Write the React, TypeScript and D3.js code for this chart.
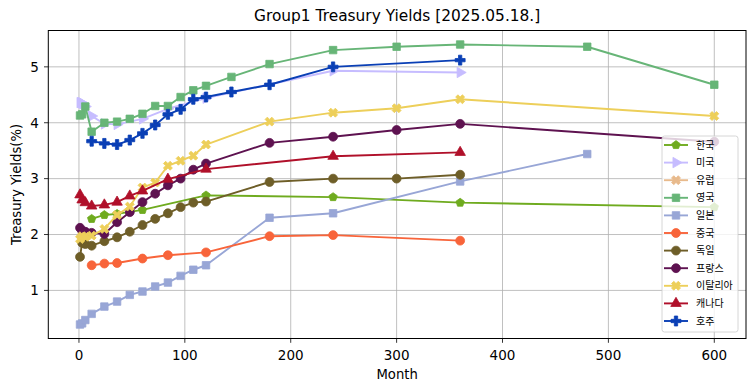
import * as d3 from "d3";

// Treasury yields by maturity (months)
const koreaMonths = [12, 24, 36, 60, 120, 240, 360, 600];
const koreaYields = [2.28, 2.35, 2.37, 2.44, 2.70, 2.67, 2.57, 2.49];

const usMonths = [1, 2, 3, 4, 6, 12, 24, 36, 60, 84, 120, 240, 360];
const usYields = [4.36, 4.36, 4.35, 4.34, 4.29, 4.12, 3.98, 3.97, 4.07, 4.25, 4.44, 4.93, 4.90];

const europeMonths: number[] = [];
const europeYields: number[] = [];

const ukMonths = [1, 3, 6, 12, 24, 36, 48, 60, 72, 84, 96, 108, 120, 144, 180, 240, 300, 360, 480, 600];
const ukYields = [4.13, 4.15, 4.29, 3.84, 4.0, 4.02, 4.07, 4.16, 4.30, 4.30, 4.46, 4.58, 4.66, 4.82, 5.05, 5.30, 5.36, 5.40, 5.36, 4.68];

const japanMonths = [1, 3, 6, 12, 24, 36, 48, 60, 72, 84, 96, 108, 120, 180, 240, 360, 480];
const japanYields = [0.39, 0.41, 0.47, 0.58, 0.71, 0.80, 0.92, 0.98, 1.07, 1.14, 1.26, 1.37, 1.45, 2.30, 2.38, 2.95, 3.44];

const chinaMonths = [12, 24, 36, 60, 84, 120, 180, 240, 360];
const chinaYields = [1.45, 1.48, 1.49, 1.57, 1.63, 1.68, 1.97, 1.99, 1.89];

const germanyMonths = [1, 3, 6, 12, 24, 36, 48, 60, 72, 84, 96, 108, 120, 180, 240, 300, 360];
const germanyYields = [1.60, 1.85, 1.83, 1.80, 1.88, 1.95, 2.05, 2.17, 2.28, 2.38, 2.49, 2.57, 2.59, 2.94, 3.00, 3.00, 3.07];

const franceMonths = [1, 3, 6, 12, 24, 36, 48, 60, 72, 84, 96, 108, 120, 180, 240, 300, 360, 600];
const franceYields = [2.12, 2.07, 2.05, 2.03, 2.01, 2.22, 2.40, 2.58, 2.73, 2.88, 3.00, 3.16, 3.27, 3.64, 3.75, 3.87, 3.98, 3.66];

const italyMonths = [1, 3, 6, 12, 24, 36, 48, 60, 72, 84, 96, 108, 120, 180, 240, 300, 360, 600];
const italyYields = [1.92, 1.97, 1.96, 1.98, 2.10, 2.35, 2.50, 2.84, 2.93, 3.23, 3.32, 3.41, 3.61, 4.02, 4.18, 4.26, 4.42, 4.12];

const canadaMonths = [1, 3, 6, 12, 24, 36, 48, 60, 84, 120, 240, 360];
const canadaYields = [2.71, 2.62, 2.57, 2.51, 2.53, 2.58, 2.69, 2.78, 2.99, 3.17, 3.40, 3.47];

const australiaMonths = [12, 24, 36, 48, 60, 72, 84, 96, 108, 120, 144, 180, 240, 360];
const australiaYields = [3.67, 3.63, 3.61, 3.69, 3.81, 3.96, 4.15, 4.24, 4.42, 4.46, 4.55, 4.68, 5.00, 5.12];

const xTicks = [0, 100, 200, 300, 400, 500, 600];
const yTicks = [1, 2, 3, 4, 5];

type Marker = "circle" | "square" | "triUp" | "triRight" | "x" | "plus" | "pentagon";

const series: { name: string; months: number[]; yields: number[]; color: string; marker: Marker }[] = [
  { name: "한국", months: koreaMonths, yields: koreaYields, color: "#6fab1f", marker: "pentagon" },
  { name: "미국", months: usMonths, yields: usYields, color: "#c6bcff", marker: "triRight" },
  { name: "유럽", months: europeMonths, yields: europeYields, color: "#e8ba8c", marker: "x" },
  { name: "영국", months: ukMonths, yields: ukYields, color: "#67b577", marker: "square" },
  { name: "일본", months: japanMonths, yields: japanYields, color: "#98a6d6", marker: "square" },
  { name: "중국", months: chinaMonths, yields: chinaYields, color: "#f8643a", marker: "circle" },
  { name: "독일", months: germanyMonths, yields: germanyYields, color: "#6e5e28", marker: "circle" },
  { name: "프랑스", months: franceMonths, yields: franceYields, color: "#5e1250", marker: "circle" },
  { name: "이탈리아", months: italyMonths, yields: italyYields, color: "#edcf5a", marker: "x" },
  { name: "캐나다", months: canadaMonths, yields: canadaYields, color: "#b0102a", marker: "triUp" },
  { name: "호주", months: australiaMonths, yields: australiaYields, color: "#0a3fb5", marker: "plus" },
];

const W = 755;
const H = 391;
const left = 48.3, right = 746, top = 30.5, bottom = 338.5;

function pentagon(r: number) {
  const pts = d3.range(5).map((i) => {
    const a = -Math.PI / 2 + (i * 2 * Math.PI) / 5;
    return [r * Math.cos(a), r * Math.sin(a)];
  });
  return "M" + pts.map((p) => p.join(",")).join("L") + "Z";
}

function markerPath(m: Marker): { d: string; rot: number } {
  switch (m) {
    case "circle": return { d: d3.symbol(d3.symbolCircle, 62)()!, rot: 0 };
    case "square": return { d: d3.symbol(d3.symbolSquare, 56)()!, rot: 0 };
    case "triUp": return { d: d3.symbol(d3.symbolTriangle, 48)()!, rot: 0 };
    case "triRight": return { d: d3.symbol(d3.symbolTriangle, 48)()!, rot: 90 };
    case "x": return { d: d3.symbol(d3.symbolCross, 50)()!, rot: 45 };
    case "plus": return { d: d3.symbol(d3.symbolCross, 55)()!, rot: 0 };
    case "pentagon": return { d: pentagon(4.4), rot: 0 };
  }
}

export default function App() {
  const allMonths = series.flatMap((s) => s.months);
  const allYields = series.flatMap((s) => s.yields);
  const [x0, x1] = d3.extent(allMonths) as [number, number];
  const [y0, y1] = d3.extent(allYields) as [number, number];
  const px = (x1 - x0) * 0.05;
  const py = (y1 - y0) * 0.05;

  const x = d3.scaleLinear().domain([x0 - px, x1 + px]).range([left, right]);
  const y = d3.scaleLinear().domain([y0 - py, y1 + py]).range([bottom, top]);

  const line = d3.line<[number, number]>().x((d) => x(d[0])).y((d) => y(d[1]));
  const font = "'DejaVu Sans', 'Noto Sans CJK KR', sans-serif";

  return (
    <div style={{ position: "absolute", left: 0, top: 0 }}>
      <svg width={W} height={H} style={{ display: "block", background: "#fff" }} fontFamily={font}>
        {/* grid */}
        {xTicks.map((t) => (
          <line key={"gx" + t} x1={x(t)} x2={x(t)} y1={top} y2={bottom} stroke="#b0b0b0" strokeWidth={0.8} />
        ))}
        {yTicks.map((t) => (
          <line key={"gy" + t} x1={left} x2={right} y1={y(t)} y2={y(t)} stroke="#b0b0b0" strokeWidth={0.8} />
        ))}

        {/* series */}
        <defs>
          <clipPath id="plot">
            <rect x={left} y={top} width={right - left} height={bottom - top} />
          </clipPath>
        </defs>
        <g clipPath="url(#plot)">
          {series.map((s) => {
            const pts = s.months.map((m, i) => [m, s.yields[i]] as [number, number]);
            const mk = markerPath(s.marker);
            return (
              <g key={s.name}>
                <path d={line(pts) ?? ""} fill="none" stroke={s.color} strokeWidth={1.9} strokeLinejoin="round" />
                {pts.map((p, i) => (
                  <path
                    key={i}
                    d={mk.d}
                    transform={`translate(${x(p[0])},${y(p[1])}) rotate(${mk.rot})`}
                    fill={s.color}
                    stroke={s.color}
                    strokeWidth={0.8}
                  />
                ))}
              </g>
            );
          })}
        </g>

        {/* axes frame */}
        <rect x={left} y={top} width={right - left} height={bottom - top} fill="none" stroke="#000" strokeWidth={1} />

        {/* x ticks */}
        {xTicks.map((t) => (
          <g key={"xt" + t}>
            <line x1={x(t)} x2={x(t)} y1={bottom} y2={bottom + 4.3} stroke="#000" strokeWidth={0.8} />
            <text x={x(t)} y={bottom + 21} textAnchor="middle" fontSize={13.5} fill="#000">{t}</text>
          </g>
        ))}
        {/* y ticks */}
        {yTicks.map((t) => (
          <g key={"yt" + t}>
            <line x1={left - 4.3} x2={left} y1={y(t)} y2={y(t)} stroke="#000" strokeWidth={0.8} />
            <text x={left - 9.5} y={y(t)} dy="0.36em" textAnchor="end" fontSize={13.5} fill="#000">{t}</text>
          </g>
        ))}

        {/* labels */}
        <text x={(left + right) / 2} y={21} textAnchor="middle" fontSize={15.4} fill="#000">
          Group1 Treasury Yields [2025.05.18.]
        </text>
        <text x={(left + right) / 2} y={379} textAnchor="middle" fontSize={13.2} fill="#000">Month</text>
        <text transform={`translate(21,${(top + bottom) / 2}) rotate(-90)`} textAnchor="middle" fontSize={13.2} fill="#000">
          Treasury Yields(%)
        </text>

        {/* legend */}
        <g>
          <rect x={662} y={136} width={76} height={196} rx={2.5} fill="#fff" fillOpacity={0.8} stroke="#cccccc" strokeWidth={0.8} />
          {series.map((s, i) => {
            const cy = 145 + i * 17.6;
            const mk = markerPath(s.marker);
            return (
              <g key={"lg" + s.name}>
                <line x1={664} x2={688} y1={cy} y2={cy} stroke={s.color} strokeWidth={1.9} />
                <path d={mk.d} transform={`translate(676,${cy}) rotate(${mk.rot})`} fill={s.color} stroke={s.color} strokeWidth={0.8} />
                <text x={696} y={cy} dy="0.35em" fontSize={10} fill="#000">{s.name}</text>
              </g>
            );
          })}
        </g>
      </svg>
    </div>
  );
}
